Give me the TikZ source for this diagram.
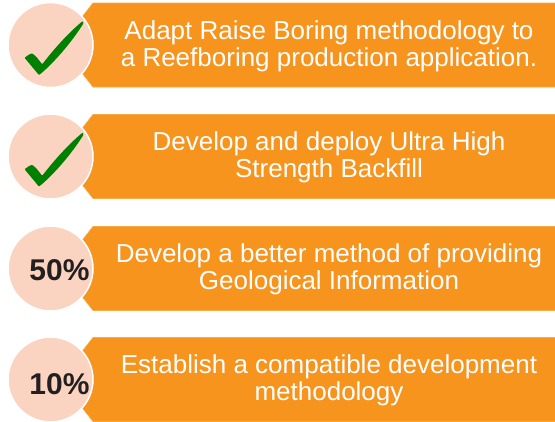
\documentclass[tikz,border=0pt]{standalone}
\usepackage{fontspec}
\setmainfont{Liberation Sans}
\definecolor{boxorange}{HTML}{F7941D}
\definecolor{peach}{HTML}{FAD4C0}
\definecolor{tickgreen}{HTML}{008000}
\definecolor{darktext}{HTML}{231F20}
\begin{document}
\begin{tikzpicture}[x=1pt,y=-1pt,
  banner/.style={fill=boxorange,draw=boxorange!80!white,line width=0.6pt},
  badge/.style={circle,fill=peach,draw=white,line width=1.5pt,minimum size=85pt,inner sep=0pt},
  txt/.style={text=white,font=\fontsize{26}{27}\selectfont,anchor=base,inner sep=0pt},
  pct/.style={text=darktext,font=\fontsize{30}{32}\selectfont\bfseries,anchor=base,inner sep=0pt},
  tick/.pic={\fill[tickgreen,rounded corners=0.8pt] (-26,12.7) -- (-21,9.3) -- (-18.3,8.3) -- (-14.3,11.7) -- (-8.3,19.3)
      .. controls (5,2) and (20,-14) .. (32.3,-24) -- (33,-21.7)
      .. controls (22,-4) and (5,16) .. (-9.3,28.3) -- (-11.7,30) -- (-14.3,26.7) -- (-22.7,16.7) -- cycle;}
]
\useasboundingbox (0,0) rectangle (555,421);
% banners
\foreach \c in {45,156.5,268.5,379.5}{
  \path[banner] (93,\c-42) -- (556,\c-42) -- (556,\c+42) -- (93,\c+42) -- (82,\c+28) -- (82,\c-28) -- cycle;
}
% badges
\node[badge] (c1) at (50.5,45) {};
\node[badge] (c2) at (50.5,156.5) {};
\node[badge] (c3) at (50.5,268.5) {};
\node[badge] (c4) at (50.5,379.5) {};
\pic at (c1.center) {tick};
\pic at (c2.center) {tick};
\node[pct] (p3) at (59.5,280.5) {50\%};
\node[pct] (p4) at (59.5,394) {10\%};
% texts
\node[txt] (t1a) at (329,39) {Adapt Raise Boring methodology to};
\node[txt] (t1b) at (329,66) {a Reefboring production application.};
\node[txt] (t2a) at (329,150.5) {Develop and deploy Ultra High};
\node[txt] (t2b) at (329,177.5) {Strength Backfill};
\node[txt] (t3a) at (329,262.5) {Develop a better method of providing};
\node[txt] (t3b) at (329,289.5) {Geological Information};
\node[txt] (t4a) at (329,373.5) {Establish a compatible development};
\node[txt] (t4b) at (329,400.5) {methodology};
\end{tikzpicture}
\end{document}
